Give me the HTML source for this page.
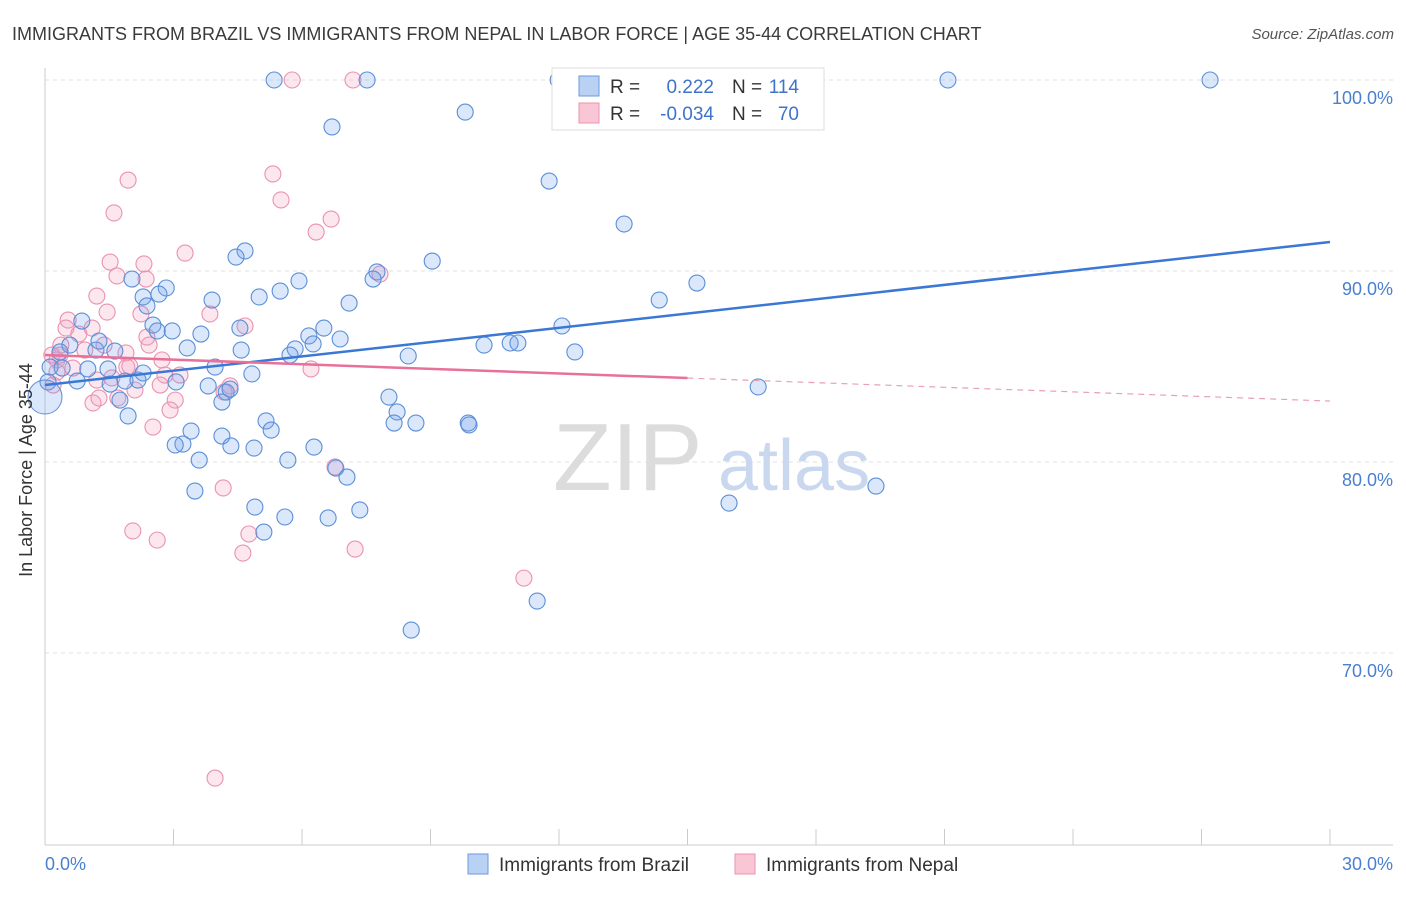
<!DOCTYPE html>
<html><head><meta charset="utf-8">
<style>
body{margin:0;background:#fff;font-family:"Liberation Sans",sans-serif;}
svg text{font-family:"Liberation Sans",sans-serif;}
</style></head>
<body>
<svg id="chart" width="1406" height="892" viewBox="0 0 1406 892" xmlns="http://www.w3.org/2000/svg">
<text x="12" y="40" font-size="18" fill="#3a3a3a">IMMIGRANTS FROM BRAZIL VS IMMIGRANTS FROM NEPAL IN LABOR FORCE | AGE 35-44 CORRELATION CHART</text>
<text x="1394" y="39" font-size="15" fill="#555" font-style="italic" text-anchor="end">Source: ZipAtlas.com</text>
<g id="grid"></g>
<g>
<text x="553" y="490" font-size="96" fill="#dcdcdc" font-family="Liberation Serif">ZIP</text>
<text x="718" y="490" font-size="72" fill="#c9d8ee">atlas</text>
</g>
<g id="axes"></g>
<g id="pts"></g>
<g id="reg"></g>
<text x="20" y="458" font-size="18" fill="#333" transform="rotate(-90 32 458)" text-anchor="middle">In Labor Force | Age 35-44</text>
<text x="45" y="870" font-size="18" fill="#4a7fd0">0.0%</text>
<text x="1393" y="870" font-size="18" fill="#4a7fd0" text-anchor="end">30.0%</text>
<g>
<rect x="552" y="68" width="272" height="62" fill="#fff" stroke="#ddd"/>
<rect x="579" y="76" width="20" height="20" fill="#b9d1f3" stroke="#6b9ae0"/>
<rect x="579" y="103" width="20" height="20" fill="#f9c6d6" stroke="#eb93b0"/>
<text x="610" y="93" font-size="19" fill="#333">R = </text><text x="714" y="93" font-size="19" fill="#3f73c9" text-anchor="end">0.222</text>
<text x="732" y="93" font-size="19" fill="#333">N = </text><text x="799" y="93" font-size="19" fill="#3f73c9" text-anchor="end">114</text>
<text x="610" y="120" font-size="19" fill="#333">R = </text><text x="714" y="120" font-size="19" fill="#3f73c9" text-anchor="end">-0.034</text>
<text x="732" y="120" font-size="19" fill="#333">N = </text><text x="799" y="120" font-size="19" fill="#3f73c9" text-anchor="end">70</text>
</g>
<g>
<rect x="468" y="854" width="20" height="20" fill="#b9d1f3" stroke="#6b9ae0"/>
<text x="499" y="871" font-size="19" fill="#333">Immigrants from Brazil</text></g>
<g>
<rect x="735" y="854" width="20" height="20" fill="#f9c6d6" stroke="#eb93b0"/>
<text x="766" y="871" font-size="19" fill="#333">Immigrants from Nepal</text></g>
</svg>
<script>
const yTicks=[100,90,80,70];
const yTickLabels=["100.0%","90.0%","80.0%","70.0%"];
const xTicks=[0,3,6,9,12,15,18,21,24,27,30];
const brazilX=[5.35,7.52,11.98,21.08,27.2,9.81,6.70,11.77,13.52,4.67,4.46,9.04,7.75,5.93,7.66,2.03,2.83,2.66,2.29,5.49,5.00,3.90,2.38,7.10,14.34,15.22,2.52,2.62,2.97,3.64,3.32,4.55,6.51,6.16,6.89,6.26,5.84,5.72,4.58,8.48,10.25,10.86,11.04,12.07,12.37,0.86,0.58,1.19,0.35,1.26,1.63,0.12,0.40,0.75,0.07,1.00,1.47,1.87,2.17,2.29,1.52,3.97,4.83,3.06,3.81,4.23,4.32,4.13,1.75,1.94,8.03,8.22,8.15,8.66,9.88,9.90,5.16,5.28,3.41,3.22,3.04,4.13,4.34,4.88,6.28,3.60,5.67,6.79,7.05,3.50,4.90,5.60,6.61,7.35,5.11,16.65,15.97,19.40,11.49,8.55];
const brazilY=[100,100,100,100,100,98.32,97.54,94.71,92.46,91.05,90.73,90.52,89.95,89.48,89.58,89.58,89.11,88.79,88.64,88.95,88.64,88.48,88.17,88.32,88.48,89.37,87.17,86.86,86.86,86.70,85.97,87.01,87.01,86.60,86.44,86.18,85.92,85.60,85.86,85.55,86.12,86.23,86.23,87.12,85.76,87.38,86.12,85.86,85.76,86.33,85.81,84.97,84.92,84.24,84.19,84.87,84.87,84.24,84.29,84.66,84.08,84.97,84.61,84.19,83.98,83.66,83.82,83.14,83.24,82.41,83.40,82.62,82.04,82.04,82.04,81.94,82.15,81.67,81.62,80.94,80.89,81.36,80.84,80.73,80.78,80.10,80.10,79.68,79.21,78.48,77.64,77.12,77.07,77.49,76.33,83.93,77.85,78.74,72.72,71.20];
const nepalX=[5.77,7.19,1.94,1.61,5.32,5.51,6.68,6.33,3.27,1.52,2.31,2.36,1.68,1.21,1.45,2.24,3.85,0.54,0.49,1.10,0.79,0.37,0.16,0.28,0.65,1.21,1.56,1.91,2.43,2.38,2.73,4.67,7.82,1.89,1.98,2.80,3.15,2.69,3.04,2.92,1.12,1.26,1.70,2.52,4.32,4.18,6.21,6.77,4.16,2.05,2.62,4.76,4.62,7.24,11.18,3.97,0.19,0.28,0.35,0.93,1.38,2.10];
const nepalY=[100,100,94.76,93.04,95.08,93.72,92.72,92.04,90.94,90.47,90.37,89.58,89.74,88.69,87.85,87.75,87.75,87.43,87.01,87.01,86.70,86.12,85.60,85.34,84.92,84.29,84.40,84.97,86.12,86.54,85.34,87.12,89.84,85.71,85.02,84.55,84.55,84.03,83.24,82.72,83.09,83.35,83.35,81.83,83.98,83.66,84.87,79.74,78.64,76.39,75.91,76.23,75.23,75.44,73.92,63.45,84.03,84.71,85.60,85.86,86.12,83.77];
const brazilReg=[84.03,91.52];
const nepalReg=[85.60,83.19];
const nepalSolidEnd=15;
const NS="http://www.w3.org/2000/svg";
const X0=45,X1=1330,Y0=80,PXPER=19.1;
function sx(v){return X0+(v/30)*(X1-X0);}
function sy(v){return Y0+(100-v)*PXPER;}
function mk(tag,attrs,parent){const e=document.createElementNS(NS,tag);for(const k in attrs)e.setAttribute(k,attrs[k]);parent.appendChild(e);return e;}
const grid=document.getElementById('grid'),axes=document.getElementById('axes'),pts=document.getElementById('pts'),reg=document.getElementById('reg');
yTicks.forEach((t,i)=>{
  const l=mk('line',{x1:X0,x2:1393,y1:sy(t),y2:sy(t),stroke:'#e2e2e2','stroke-dasharray':'4,4'},grid);
  
  
  const tx=mk('text',{x:1393,y:sy(t)+24,'font-size':18,fill:'#4a7fd0','text-anchor':'end'},grid);
  tx.textContent=yTickLabels[i];
  
  
});
const ya=mk('line',{x1:X0,x2:X0,y1:68,y2:845,stroke:'#ccc'},axes);


const xa=mk('line',{x1:X0,x2:1393,y1:845,y2:845,stroke:'#ccc'},axes);


xTicks.forEach(t=>{
  const l=mk('line',{x1:sx(t),x2:sx(t),y1:829,y2:845,stroke:'#ccc'},axes);
  
  
});
function drawPts(xs,ys,fill,stroke,name){
  xs.forEach((x,i)=>{
    const c=mk('circle',{cx:sx(x),cy:sy(ys[i]),r:8,fill:fill,stroke:stroke,'stroke-width':1.1},pts);
    
    
  });
}
drawPts(nepalX,nepalY,'rgba(244,160,190,0.25)','#ea92b0','nepal-point');
drawPts(brazilX,brazilY,'rgba(110,160,235,0.25)','#5b8fd8','brazil-point');
const big=mk('circle',{cx:sx(0),cy:sy(83.4),r:17,fill:'rgba(110,160,235,0.25)',stroke:'#5b8fd8'},pts);


const bl=mk('line',{x1:sx(0),y1:sy(brazilReg[0]),x2:sx(30),y2:sy(brazilReg[1]),stroke:'#3a78d4','stroke-width':2.5},reg);


const pm=nepalReg[0]+(nepalReg[1]-nepalReg[0])*nepalSolidEnd/30;
const pl=mk('line',{x1:sx(0),y1:sy(nepalReg[0]),x2:sx(nepalSolidEnd),y2:sy(pm),stroke:'#e8709a','stroke-width':2.5},reg);


const pd=mk('line',{x1:sx(nepalSolidEnd),y1:sy(pm),x2:sx(30),y2:sy(nepalReg[1]),stroke:'#e8a0b8','stroke-width':1.2,'stroke-dasharray':'6,5'},reg);


</script>
</body></html>
